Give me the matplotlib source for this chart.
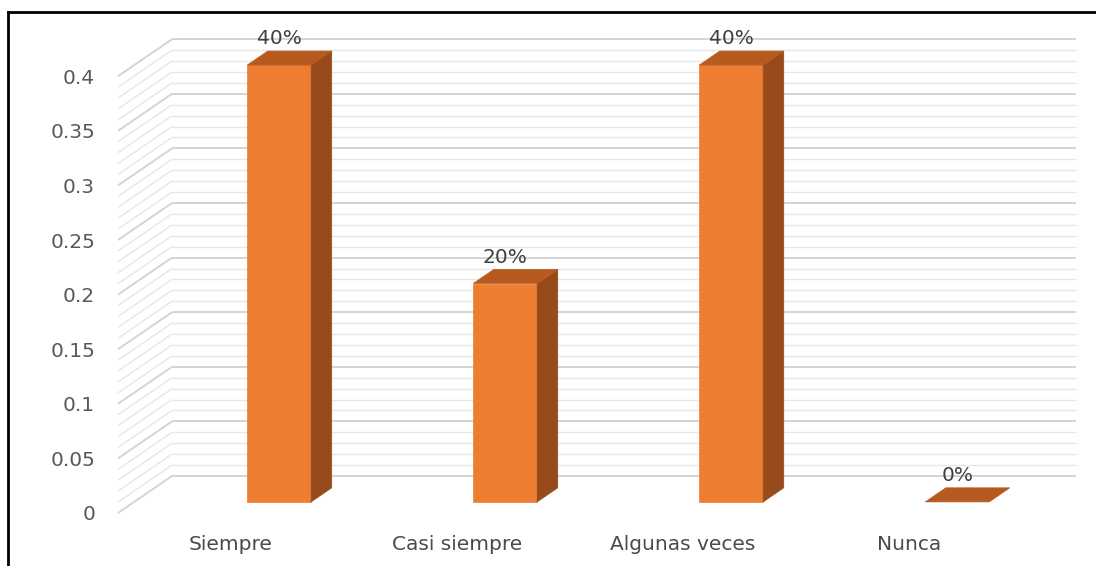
import numpy as np
import matplotlib.pyplot as plt
from matplotlib.patches import Polygon
from matplotlib.lines import Line2D

categories = ["Siempre", "Casi siempre", "Algunas veces", "Nunca"]
values = [0.4, 0.2, 0.4, 0.0]
value_labels = ["40%", "20%", "40%", "0%"]
y_ticks = [0, 0.05, 0.1, 0.15, 0.2, 0.25, 0.3, 0.35, 0.4]
y_tick_labels = ["0", "0.05", "0.1", "0.15", "0.2", "0.25", "0.3", "0.35", "0.4"]

# oblique projection: one unit of depth moves right by DX and up by DY
DX = 0.239
DY = 0.0339
BAR_W = 0.283
BAR_Z0, BAR_Z1 = 0.30, 0.68

FRONT = "#ED7D31"
TOP = "#B65A1F"
SIDE = "#974B1B"
MAJOR_GRID = "#D4D4D4"
MINOR_GRID = "#E6E6E6"
TEXT = "#595959"


def proj(x, y, z):
    return (x + z * DX, y + z * DY)


def draw_walls(ax, x0, x1, top):
    levels = np.round(np.arange(0, top + 0.0001, 0.01), 2)
    for lv in levels:
        major = abs(lv / 0.05 - round(lv / 0.05)) < 1e-6
        color = MAJOR_GRID if major else MINOR_GRID
        lw = 1.4 if major else 1.0
        # side wall diagonal
        p0 = proj(x0, lv, 0)
        p1 = proj(x0, lv, 1)
        ax.plot([p0[0], p1[0]], [p0[1], p1[1]], color=color, lw=lw, zorder=1,
                solid_capstyle="butt", clip_on=False)
        # back wall horizontal
        p2 = proj(x1, lv, 1)
        ax.plot([p1[0], p2[0]], [p1[1], p2[1]], color=color, lw=lw, zorder=1,
                solid_capstyle="butt", clip_on=False)


def draw_bar(ax, x, h):
    xl, xr = x, x + BAR_W
    z0, z1 = BAR_Z0, BAR_Z1
    top = [proj(xl, h, z0), proj(xr, h, z0), proj(xr, h, z1), proj(xl, h, z1)]
    if h > 0:
        front = [proj(xl, 0, z0), proj(xr, 0, z0), proj(xr, h, z0), proj(xl, h, z0)]
        side = [proj(xr, 0, z0), proj(xr, 0, z1), proj(xr, h, z1), proj(xr, h, z0)]
        ax.add_patch(Polygon(front, closed=True, fc=FRONT, ec=FRONT, lw=0.5, zorder=3))
        ax.add_patch(Polygon(side, closed=True, fc=SIDE, ec=SIDE, lw=0.5, zorder=3))
    ax.add_patch(Polygon(top, closed=True, fc=TOP, ec=TOP, lw=0.5, zorder=4, clip_on=False))


fig = plt.figure(figsize=(10.96, 5.66), dpi=100)
ax = fig.add_axes([118 / 1096, 53 / 566, 978 / 1096, 513 / 566])
ax.set_xlim(-0.5, 3.827)
ax.set_ylim(0, 0.4698)
for s in ax.spines.values():
    s.set_visible(False)

draw_walls(ax, -0.5, 3.5, 0.4)

for i, v in enumerate(values):
    draw_bar(ax, i, v)
    lx, ly = proj(i + BAR_W / 2, v, BAR_Z0)
    ax.text(lx, ly + 0.024, value_labels[i], ha="center", va="center",
            fontsize=14.5, color="#404040", zorder=5, clip_on=False)

ax.set_yticks(y_ticks)
ax.set_yticklabels(y_tick_labels)
ax.set_xticks(range(len(categories)))
ax.set_xticklabels(categories)
ax.tick_params(axis="y", length=0, pad=16.5, labelsize=14.5, labelcolor=TEXT)
ax.tick_params(axis="x", length=0, pad=16, labelsize=14.5, labelcolor="#4A4A4A")

# outer chart border
fig.add_artist(Line2D([8 / 1096, 8 / 1096], [0, 1 - 12 / 566], color="black", lw=2))
fig.add_artist(Line2D([8 / 1096, 1], [1 - 12 / 566, 1 - 12 / 566], color="black", lw=2))

fig.savefig("out.png", dpi=100)
